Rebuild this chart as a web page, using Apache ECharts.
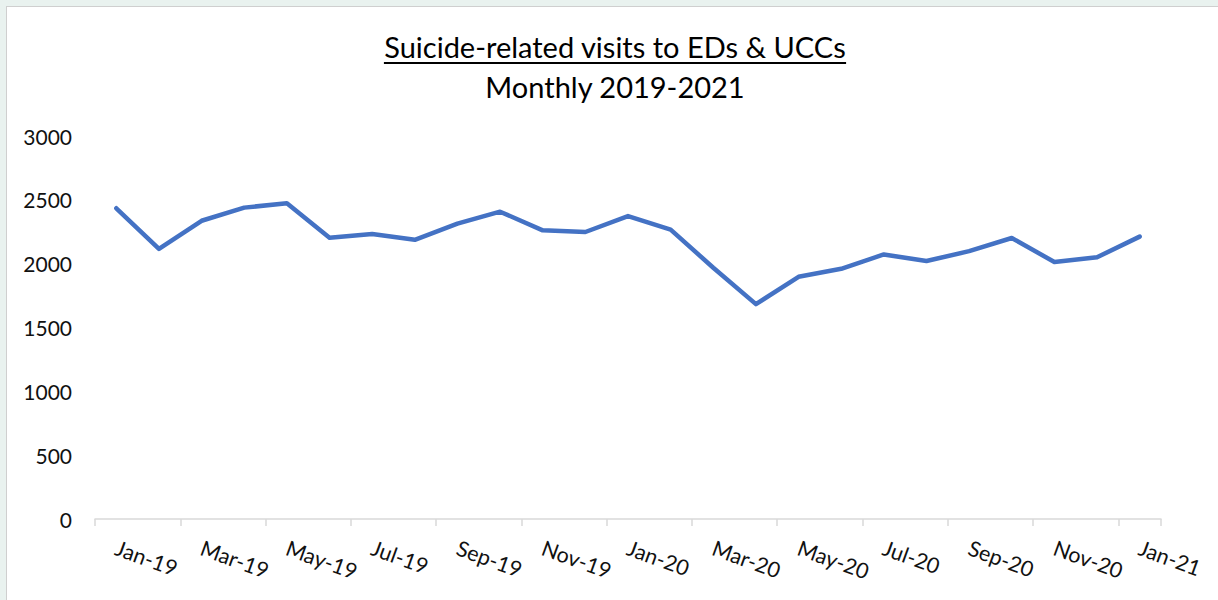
<!DOCTYPE html>
<html>
<head>
<meta charset="utf-8">
<script src="https://cdn.jsdelivr.net/npm/echarts@6/dist/echarts.min.js"></script>
<style>
  html, body { margin: 0; padding: 0; width: 1218px; height: 600px; overflow: hidden; background: #E9F2EF; }
  #frame { position: absolute; left: 6px; top: 6px; width: 1212px; height: 594px; background: #fff; border-left: 1.5px solid #CFCFCF; border-top: 1.5px solid #CFCFCF; box-sizing: border-box; }
  #chart { position: absolute; left: 0; top: 0; width: 1218px; height: 600px; }
</style>
</head>
<body>
<div id="frame"></div>
<div id="chart"></div>
<script>
const titleText = 'Suicide-related visits to EDs & UCCs';
const subtitleText = 'Monthly 2019-2021';
const months = ['Jan-19','Feb-19','Mar-19','Apr-19','May-19','Jun-19','Jul-19','Aug-19','Sep-19','Oct-19','Nov-19','Dec-19',
                'Jan-20','Feb-20','Mar-20','Apr-20','May-20','Jun-20','Jul-20','Aug-20','Sep-20','Oct-20','Nov-20','Dec-20',
                'Jan-21'];
const visits = [2434, 2115, 2336, 2439, 2473, 2203, 2232, 2187, 2314, 2407, 2261, 2248,
                2373, 2267, 1968, 1683, 1897, 1960, 2072, 2021, 2098, 2201, 2013, 2050,
                2212];
const yTicks = { min: 0, max: 3000, interval: 500 };

const FONT = 'Lato, "Open Sans", sans-serif';
const titleSize = 29;
const cx = 615;

// measure title width for underline
const cv = document.createElement('canvas').getContext('2d');
cv.font = titleSize + 'px ' + FONT;
const tw = cv.measureText(titleText).width;

const chart = echarts.init(document.getElementById('chart'), null, { renderer: 'svg' });
chart.setOption({
  animation: false,
  backgroundColor: 'transparent',
  graphic: [
    { type: 'text', x: cx, y: 46, style: { text: titleText, fill: '#000', font: titleSize + 'px ' + FONT, textAlign: 'center', textVerticalAlign: 'middle' } },
    { type: 'line', shape: { x1: cx - tw / 2, y1: 63, x2: cx + tw / 2, y2: 63 }, style: { stroke: '#000', lineWidth: 2 } },
    { type: 'text', x: cx, y: 86, style: { text: subtitleText, fill: '#000', font: titleSize + 'px ' + FONT, textAlign: 'center', textVerticalAlign: 'middle' } }
  ],
  grid: { left: 95, right: 57, top: 136, bottom: 81, containLabel: false },
  xAxis: {
    type: 'category',
    data: months,
    boundaryGap: true,
    axisLine: { show: true, lineStyle: { color: '#D9D9D9', width: 1.5 } },
    axisTick: { show: true, interval: 1, length: 7, lineStyle: { color: '#D9D9D9', width: 1.5 } },
    axisLabel: { interval: 1, rotate: -20, fontSize: 21.5, fontFamily: FONT, color: '#111', margin: 28 },
    splitLine: { show: false }
  },
  yAxis: {
    type: 'value',
    min: yTicks.min, max: yTicks.max, interval: yTicks.interval,
    axisLine: { show: false },
    axisTick: { show: false },
    splitLine: { show: false },
    axisLabel: { fontSize: 21, fontFamily: FONT, color: '#111', margin: 23, formatter: v => String(v) }
  },
  series: [{
    type: 'line',
    data: visits,
    showSymbol: false,
    symbol: 'none',
    lineStyle: { color: '#4472C4', width: 4.5, cap: 'round', join: 'round' },
    itemStyle: { color: '#4472C4' }
  }]
});
</script>
</body>
</html>
